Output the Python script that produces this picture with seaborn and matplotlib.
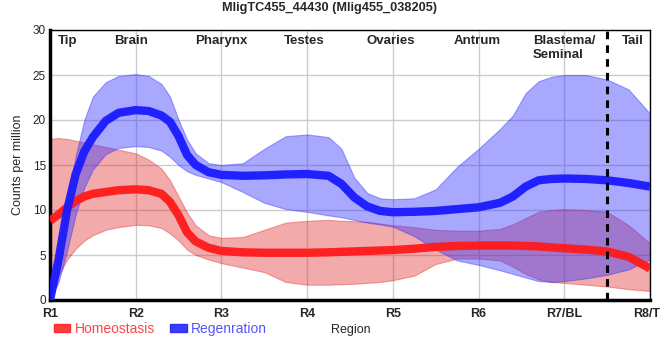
import matplotlib
matplotlib.use("Agg")
import matplotlib.pyplot as plt
from matplotlib.patches import Patch
import seaborn as sns
import pandas as pd

# positions along the worm, R1 = 0 ... R8 = 7
pos = [0, 0.1, 0.2, 0.3, 0.4, 0.5, 0.65, 0.8, 1.0, 1.15, 1.3, 1.4, 1.5, 1.6, 1.7, 1.85,
       2.0, 2.25, 2.5, 2.75, 3.0, 3.25, 3.4, 3.55, 3.7, 3.85, 4.0, 4.25, 4.5, 4.75,
       5.0, 5.25, 5.4, 5.55, 5.7, 5.85, 6.0, 6.25, 6.5, 6.75, 7.0]

homeo = [8.8, 9.5, 10.3, 11.0, 11.5, 11.8, 12.0, 12.2, 12.3, 12.2, 11.8, 10.9, 9.4, 7.5, 6.5, 5.8,
         5.45, 5.3, 5.25, 5.25, 5.25, 5.3, 5.35, 5.4, 5.45, 5.5, 5.55, 5.7, 5.9, 6.0,
         6.05, 6.05, 6.05, 6.0, 5.95, 5.85, 5.75, 5.6, 5.4, 4.8, 3.5]
homeo_hi = [17.9, 18.0, 17.9, 17.7, 17.5, 17.3, 17.0, 16.7, 16.3, 15.6, 14.6, 13.3, 11.5, 9.7, 8.3, 7.2,
            6.9, 7.0, 7.8, 8.6, 8.8, 8.9, 8.8, 8.75, 8.7, 8.5, 8.3, 8.1, 7.8, 7.7,
            7.7, 7.9, 8.4, 9.1, 9.8, 10.0, 10.1, 10.0, 9.8, 8.3, 6.3]
homeo_lo = [0.0, 2.7, 4.5, 5.7, 6.6, 7.2, 7.8, 8.1, 8.35, 8.3, 8.0, 7.4, 6.6, 5.6, 5.0, 4.5,
            4.1, 3.6, 3.1, 2.0, 1.7, 1.7, 1.75, 1.8, 1.9, 2.0, 2.2, 2.7, 4.0, 4.6,
            4.6, 4.4, 3.7, 2.9, 2.3, 2.0, 1.9, 1.7, 1.5, 1.2, 1.0]

regen = [0.0, 4.5, 10.0, 14.0, 16.5, 18.1, 19.9, 20.8, 21.1, 21.0, 20.5, 19.8, 18.2, 16.1, 15.0, 14.2,
         13.9, 13.8, 13.85, 13.95, 14.0, 13.8, 12.9, 11.4, 10.4, 9.9, 9.75, 9.8, 9.9, 10.1,
         10.3, 10.8, 11.5, 12.6, 13.3, 13.45, 13.5, 13.45, 13.3, 13.0, 12.6]
regen_hi = [0.0, 5.5, 11.0, 16.0, 20.0, 22.6, 24.2, 24.9, 25.1, 24.9, 24.0, 22.6, 20.0, 17.8, 16.3, 15.2,
            15.0, 15.2, 16.8, 18.2, 18.4, 18.1, 16.8, 13.6, 11.9, 11.3, 11.2, 11.3, 12.3, 14.8,
            16.8, 19.0, 20.5, 23.0, 24.3, 24.8, 25.0, 25.0, 24.5, 23.4, 20.7]
regen_lo = [0.0, 2.0, 5.5, 9.5, 12.5, 14.5, 16.2, 16.9, 17.1, 17.0, 16.6, 15.9, 15.0, 14.3, 13.9, 13.5,
            13.1, 12.0, 10.8, 10.1, 9.8, 9.4, 9.2, 8.9, 8.6, 8.4, 8.15, 7.1, 5.6, 4.4,
            3.9, 3.3, 2.9, 2.5, 2.1, 2.0, 2.1, 2.4, 2.8, 3.4, 4.5]

tick_labels = ["R1", "R2", "R3", "R4", "R5", "R6", "R7/BL", "R8/TL"]
region_names = ["Tip", "Brain", "Pharynx", "Testes", "Ovaries", "Antrum", "Blastema/\nSeminal", "Tail"]
region_pos = [0.2, 0.95, 2.0, 2.97, 3.98, 4.98, 6.0, 6.8]

red = "#ff1a1a"
blue = "#1a1aff"

sns.set_style("white")
plt.rcParams["font.family"] = ["Liberation Sans", "DejaVu Sans"]

df = pd.DataFrame({"pos": pos, "Homeostasis": homeo, "Regenration": regen})

fig = plt.figure(figsize=(6.6, 3.6), dpi=100)
ax = fig.add_axes([50 / 660, 60 / 360, 600 / 660, 270 / 360])

ax.fill_between(pos, homeo_lo, homeo_hi, color="#e02020", alpha=0.38, lw=0.8, zorder=2)
ax.fill_between(pos, regen_lo, regen_hi, color="#3030ff", alpha=0.42, lw=0.8, zorder=2)
sns.lineplot(data=df, x="pos", y="Homeostasis", color=red, lw=6, alpha=0.95, ax=ax, zorder=4,
             solid_capstyle="butt")
sns.lineplot(data=df, x="pos", y="Regenration", color=blue, lw=6, alpha=0.95, ax=ax, zorder=5,
             solid_capstyle="butt")

ax.axvline(6.5, color="black", lw=2.2, ls=(0, (2.5, 2.0)), zorder=6)

ax.set_xlim(0, 7)
ax.set_ylim(0, 30)
ax.set_xticks(range(8))
ax.set_xticklabels(tick_labels, fontsize=9, fontweight="bold")
ax.set_yticks(range(0, 31, 5))
ax.tick_params(axis="y", labelsize=8.5, length=0, pad=3)
ax.tick_params(axis="x", length=4, width=1.2, pad=2, color="black")
ax.grid(True, color="#cccccc", lw=1, zorder=0)
ax.set_axisbelow(True)
ax.set_xlabel("")
ax.set_ylabel("Counts per million", fontsize=9, labelpad=6)

for side in ["top", "right"]:
    ax.spines[side].set_linewidth(1)
    ax.spines[side].set_color("black")
for side in ["left", "bottom"]:
    ax.spines[side].set_linewidth(2.5)
    ax.spines[side].set_color("black")

for name, x in zip(region_names, region_pos):
    ax.text(x, 29.4, name, ha="center", va="top", fontsize=9.5, fontweight="bold",
            linespacing=1.15, zorder=7, multialignment="left")

fig.text(330 / 660, 1 - 8 / 360, "MligTC455_44430 (Mlig455_038205)", ha="center", va="center",
         fontsize=9.2, fontweight="bold")
fig.text(351 / 660, 1 - 330 / 360, "Region", ha="center", va="center", fontsize=9)

handles = [Patch(color=red, alpha=0.85), Patch(color=blue, alpha=0.85)]
leg = fig.legend(handles, ["Homeostasis", "Regenration"], loc="center left",
                 bbox_to_anchor=(48 / 660, 1 - 329 / 360), ncol=2, frameon=False,
                 fontsize=10, handlelength=1.2, handleheight=0.5, handletextpad=0.3,
                 columnspacing=1.1, borderaxespad=0)
for txt, c in zip(leg.get_texts(), ["#ff4444", "#5555ff"]):
    txt.set_color(c)

fig.savefig("out.png", dpi=100)
